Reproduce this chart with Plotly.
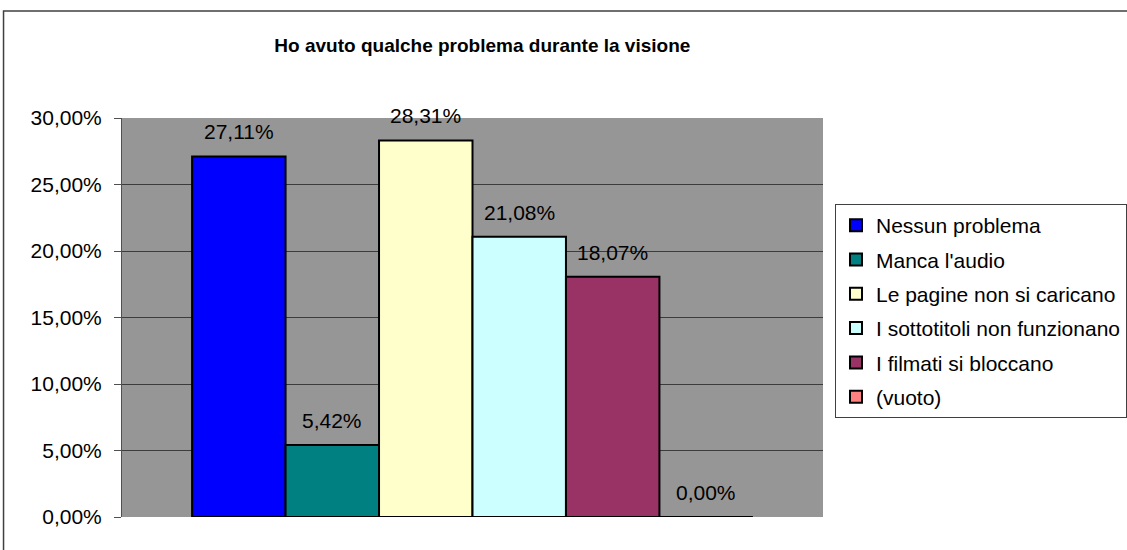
import plotly.graph_objects as go

# risposte alla domanda
categorie = ["Nessun problema", "Manca l'audio", "Le pagine non si caricano",
             "I sottotitoli non funzionano", "I filmati si bloccano", "(vuoto)"]
percentuali = [0.2711, 0.0542, 0.2831, 0.2108, 0.1807, 0.0]
colori = ["#0000FF", "#008080", "#FFFFCC", "#CCFFFF", "#993366", "#FF8080"]
gruppo = [""]

font_base = "Liberation Sans, Arial, sans-serif"
bargap = 0.2

fig = go.Figure()

for nome, val, col in zip(categorie, percentuali, colori):
    fig.add_trace(go.Bar(
        x=gruppo,
        y=[val],
        name=nome,
        legendgroup=nome,
        marker=dict(color=col, line=dict(color="black", width=2)),
    ))

# etichette dei valori sopra le barre (centro di ogni barra nel gruppo)
n = len(categorie)
for i, val in enumerate(percentuali):
    fig.add_annotation(
        x=(i - (n - 1) / 2) * (1 - bargap) / n,
        y=val,
        xref="x", yref="y",
        text=f"{val * 100:.2f}%".replace(".", ","),
        showarrow=False,
        yanchor="bottom",
        yshift=11,
        font=dict(family=font_base, size=21, color="black"),
    )

fig.update_layout(
    width=1127,
    height=550,
    separators=",.",
    barmode="group",
    bargap=bargap,
    bargroupgap=0,
    paper_bgcolor="white",
    plot_bgcolor="#969696",
    margin=dict(l=122, r=301, t=118, b=33),
    font=dict(family=font_base, size=21, color="black"),
    title=dict(
        text="<b>Ho avuto qualche problema durante la visione</b>",
        x=0.428, xref="container", xanchor="center",
        y=0.918, yref="container", yanchor="middle",
        font=dict(family=font_base, size=19, color="black"),
    ),
    showlegend=True,
    legend=dict(
        xref="container", yref="container",
        x=0.7409, xanchor="left",
        y=0.629, yanchor="top",
        traceorder="grouped",
        tracegroupgap=4,
        bordercolor="#404040",
        borderwidth=1,
        bgcolor="white",
        font=dict(family=font_base, size=21, color="black"),
        itemwidth=30,
    ),
)

fig.update_xaxes(showticklabels=False, showgrid=False, zeroline=False, showline=False)
fig.update_yaxes(
    range=[0, 0.3],
    dtick=0.05,
    tickformat=".2%",
    showgrid=True,
    gridcolor="#3c3c3c",
    gridwidth=1,
    zeroline=False,
    showline=True,
    linecolor="#505050",
    linewidth=1,
    ticks="outside",
    ticklen=7,
    tickcolor="#505050",
    ticklabelstandoff=8,
    tickfont=dict(family=font_base, size=21, color="black"),
)

# cornice esterna del grafico
fig.add_shape(type="rect", xref="paper", yref="paper",
              x0=-0.169, y0=-0.2, x1=1.6, y1=1.268,
              line=dict(color="#404040", width=1.5), fillcolor="rgba(0,0,0,0)",
              layer="below")

fig.write_html("out.html", config={"displayModeBar": False},
               post_script="document.body.style.margin = '0';")
